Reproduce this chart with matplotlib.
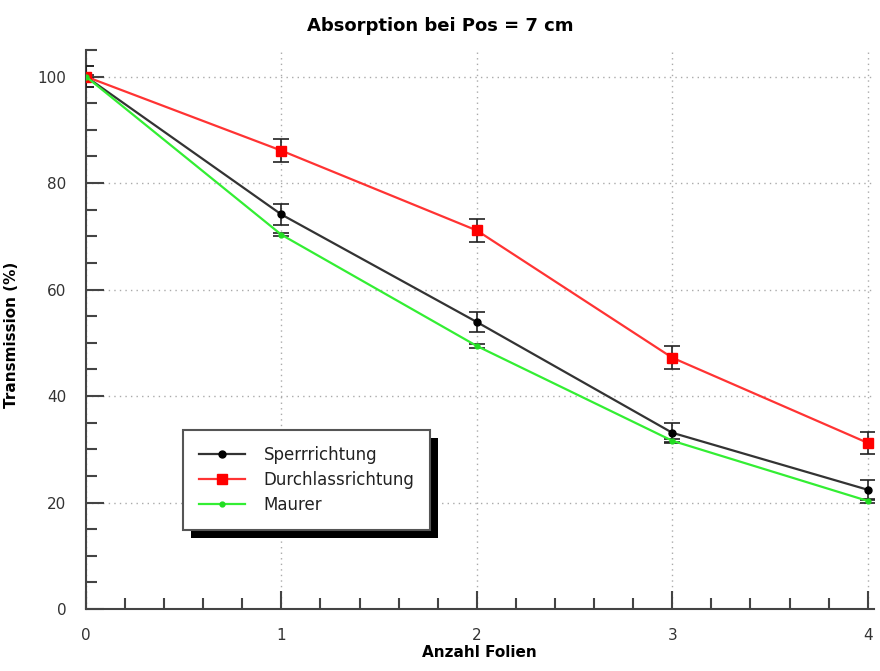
import matplotlib
matplotlib.use("Agg")
from matplotlib import pyplot as plt
from matplotlib.ticker import MultipleLocator
from matplotlib.patches import Rectangle
from matplotlib.transforms import IdentityTransform
import numpy as np

folien = [0, 1, 2, 3, 4]
sperr = [100, 74.1, 53.9, 33.1, 22.4]
sperr_err = [2.0, 1.9, 1.9, 1.9, 1.9]
durchlass = [100, 86.1, 71.1, 47.2, 31.2]
durchlass_err = [2.0, 2.2, 2.2, 2.2, 2.0]
maurer = [100, 70.3, 49.4, 31.6, 20.3]
maurer_err = [0.3, 0.3, 0.3, 0.3, 0.3]

plt.rcParams['font.family'] = ['DejaVu Sans']

fig = plt.figure(figsize=(8.8, 6.71), dpi=100)
ax = fig.add_axes([0.0977, 0.0924, 0.895, 0.8331])

series = [
    (sperr, sperr_err, 'Sperrrichtung', '#333333', 'o', 5, 'black'),
    (durchlass, durchlass_err, 'Durchlassrichtung', '#ff3333', 's', 7, 'red'),
    (maurer, maurer_err, 'Maurer', '#33ee33', 'o', 3.5, '#22dd22'),
]
for vals, err, name, col, mk, ms, mcol in series:
    ax.errorbar(folien, vals, yerr=err, fmt='none', ecolor='#222222', elinewidth=1.2,
                capsize=6, capthick=1.2, zorder=3)
    ax.plot(folien, vals, color=col, lw=1.6, marker=mk, ms=ms, mfc=mcol, mec=mcol,
            label=name, zorder=4)

ax.set_xlim(0, 4.03)
ax.set_ylim(0, 105)
ax.xaxis.set_major_locator(MultipleLocator(1))
ax.xaxis.set_minor_locator(MultipleLocator(0.2))
ax.yaxis.set_major_locator(MultipleLocator(20))
ax.yaxis.set_minor_locator(MultipleLocator(5))

for s in ['top', 'right']:
    ax.spines[s].set_visible(False)
for s in ['left', 'bottom']:
    ax.spines[s].set_color('#444444')
    ax.spines[s].set_linewidth(1.5)

ax.tick_params(which='major', direction='in', length=13, width=1.5, color='#444444',
               labelsize=11, labelcolor='#333333', pad=14)
ax.tick_params(which='minor', direction='in', length=8, width=1.5, color='#444444')
ax.grid(True, which='major', linestyle=(0, (1, 3)), color='#aaaaaa', lw=1)

ax.set_xlabel('Anzahl Folien', fontsize=11, fontweight='bold')
ax.xaxis.set_label_coords(0.5, -0.065)
ax.set_ylabel('Transmission (%)', fontsize=11, fontweight='bold')
ax.yaxis.set_label_coords(-0.085, 0.49)
fig.suptitle('Absorption bei Pos = 7 cm', fontsize=13, fontweight='bold', y=0.975)

leg = ax.legend(loc='upper left', bbox_to_anchor=(0.123, 0.32), borderaxespad=0, fontsize=12,
                fancybox=False, edgecolor='#555555', framealpha=1, borderpad=0.95,
                handlelength=2.8, handletextpad=1.1, labelspacing=0.42, labelcolor='#222222')
leg.get_frame().set_linewidth(1.5)
leg.set_zorder(10)

# hard black drop shadow like the original
fig.canvas.draw()
bb = leg.get_frame().get_window_extent()
shadow = Rectangle((bb.x0 + 8, bb.y0 - 8), bb.width, bb.height, transform=IdentityTransform(),
                   facecolor='black', edgecolor='none', zorder=9, clip_on=False)
ax.add_artist(shadow)

fig.savefig('out.png', dpi=100)
